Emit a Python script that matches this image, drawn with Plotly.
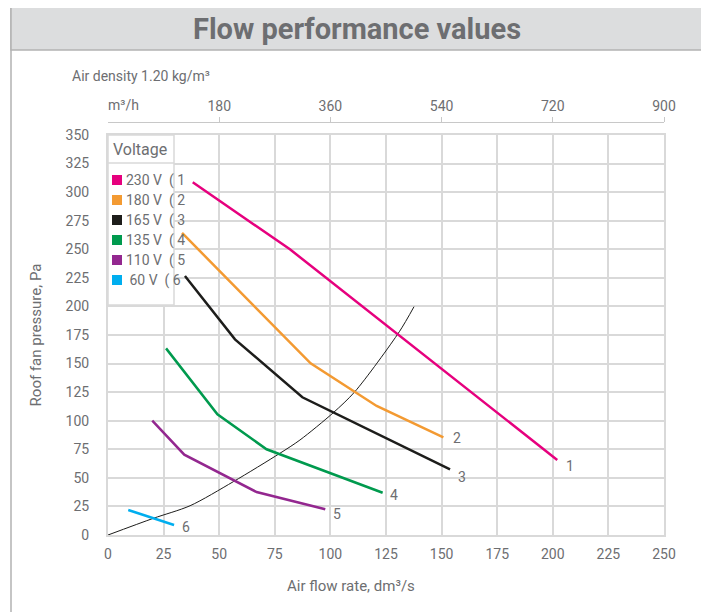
import plotly.graph_objects as go

# ---- data ----
voltages = ["230 V", "180 V", "165 V", "135 V", "110 V", " 60 V"]
curve_ids = ["1", "2", "3", "4", "5", "6"]
colors = ["#E6007E", "#F39A32", "#1D1D1B", "#009A4E", "#93278F", "#00AEEF"]

flow1 = [38.1, 81.8, 202.0]
pres1 = [308.6, 250.0, 65.6]
flow2 = [33.3, 91.1, 120.8, 150.8]
pres2 = [264.3, 150.2, 112.9, 85.5]
flow3 = [34.6, 57.1, 87.4, 153.8]
pres3 = [226.6, 171.2, 120.5, 57.5]
flow4 = [26.1, 49.2, 71.3, 123.5]
pres4 = [163.3, 105.6, 75.0, 37.0]
flow5 = [19.9, 34.3, 66.8, 97.7]
pres5 = [100.0, 70.3, 37.6, 22.5]
flow6 = [9.1, 29.7]
pres6 = [21.9, 8.75]

sys_flow = [0, 20.4, 36.9, 56.3, 77.3, 86.3, 101.3, 111.0, 131.0, 137.6]
sys_pres = [0, 14.6, 25.6, 46.6, 71.5, 83.1, 107.0, 125.4, 177.9, 199.8]

x_ticks = [0, 25, 50, 75, 100, 125, 150, 175, 200, 225, 250]
y_ticks = [0, 25, 50, 75, 100, 125, 150, 175, 200, 225, 250, 275, 300, 325, 350]
top_ticks = [180, 360, 540, 720, 900]

flows = [flow1, flow2, flow3, flow4, flow5, flow6]
press = [pres1, pres2, pres3, pres4, pres5, pres6]
label_shift = [(7, -6), (8, -1), (6, -8), (5, -2), (6, -5), (6, -2)]

FONT = "Roboto, Open Sans, sans-serif"
TXT = "#6d6e71"
GRID = "#d9d9d9"

OFF = 8  # page body margin
W, H = 709 - OFF, 612 - OFF
L, R_, T, B = 108, 664, 122, 535  # plot area in screen px (top incl. top axis)
pw, ph = R_ - L, B - T


def px(xp):
    return (xp - L) / pw


def py(yp):
    return (B - yp) / ph


fig = go.Figure()

# system curve
fig.add_trace(go.Scatter(x=sys_flow, y=sys_pres, mode="lines",
                         line=dict(color="#1D1D1B", width=1, shape="spline", smoothing=0.8),
                         showlegend=False, hoverinfo="skip"))

for f, p, c in zip(flows, press, colors):
    fig.add_trace(go.Scatter(x=f, y=p, mode="lines", line=dict(color=c, width=2.5),
                             showlegend=False))

# invisible trace for top axis
fig.add_trace(go.Scatter(x=[0, 900], y=[0, 0], xaxis="x2", mode="markers",
                         marker=dict(opacity=0), showlegend=False, hoverinfo="skip"))

ydom_top = (B - 135) / ph

fig.update_layout(
    width=W, height=H,
    margin=dict(l=L - OFF, r=709 - R_, t=T - OFF, b=612 - B, pad=0),
    paper_bgcolor="white", plot_bgcolor="white",
    font=dict(family=FONT, color=TXT, size=14),
    xaxis=dict(range=[0, 250], tickvals=x_ticks, showgrid=True, gridcolor=GRID, gridwidth=1.5,
               zeroline=False, showline=True, mirror=True, linecolor=GRID, linewidth=2,
               ticks="", ticklabelstandoff=5, tickfont=dict(size=14, color=TXT)),
    yaxis=dict(range=[0, 350], tickvals=y_ticks, domain=[0, ydom_top], showgrid=True,
               gridcolor=GRID, gridwidth=1.5, zeroline=False, showline=True, mirror=True,
               linecolor=GRID, linewidth=2, ticks="", ticklabelstandoff=14,
               tickfont=dict(size=14, color=TXT),
               title=dict(text="Roof fan pressure, Pa", font=dict(size=15, color=TXT), standoff=20)),
    xaxis2=dict(range=[0, 900], overlaying="x", side="top", anchor="free", position=1,
                tickvals=top_ticks, showgrid=False, zeroline=False, showline=True,
                linecolor="#c8c8c8", linewidth=1, ticks="outside", ticklen=5,
                tickcolor="#c8c8c8", tickfont=dict(size=14, color=TXT)),
)

shapes = []
# outer frame
shapes.append(dict(type="rect", xref="paper", yref="paper", x0=px(11), x1=px(702), y0=py(640), y1=py(7),
                   line=dict(color="#b3b3b3", width=1.5), fillcolor="rgba(0,0,0,0)", layer="below"))
# title band
shapes.append(dict(type="rect", xref="paper", yref="paper", x0=px(11), x1=px(702), y0=py(50), y1=py(7),
                   line=dict(color="#b3b3b3", width=1.5), fillcolor="#dcddde", layer="below"))
# legend box
lx0, lx1 = 0, (174 - L) / pw
shapes.append(dict(type="rect", xref="x domain", yref="y domain", x0=lx0, x1=lx1,
                   y0=(535 - 305) / 400, y1=1, fillcolor="white",
                   line=dict(color=GRID, width=1.5), layer="above"))
shapes.append(dict(type="line", xref="x domain", yref="y domain", x0=lx0, x1=lx1,
                   y0=(535 - 163) / 400, y1=(535 - 163) / 400, line=dict(color=GRID, width=1.5)))

annotations = []
annotations.append(dict(text="<b>Flow performance values</b>", xref="paper", yref="paper",
                        x=px(357), y=py(29), showarrow=False, font=dict(size=29, color=TXT, family=FONT),
                        xanchor="center", yanchor="middle"))
annotations.append(dict(text="Air density 1.20 kg/m³", xref="paper", yref="paper", x=px(70), y=py(76),
                        showarrow=False, xanchor="left", yanchor="middle", font=dict(size=14, color=TXT)))
annotations.append(dict(text="m³/h", xref="paper", yref="paper", x=px(123), y=py(105),
                        showarrow=False, xanchor="center", yanchor="middle", font=dict(size=14, color=TXT)))
annotations.append(dict(text="Air flow rate, dm³/s", xref="paper", yref="paper", x=px(351), y=py(586),
                        showarrow=False, xanchor="center", yanchor="middle", font=dict(size=15, color=TXT)))
annotations.append(dict(text="Voltage", xref="x domain", yref="y domain", x=(111 - L) / pw,
                        y=(535 - 149) / 400, showarrow=False, xanchor="left", yanchor="middle",
                        font=dict(size=16, color=TXT)))

for i, (v, cid, c) in enumerate(zip(voltages, curve_ids, colors)):
    yc = 180 + 20 * i
    shapes.append(dict(type="rect", xref="x domain", yref="y domain",
                       x0=(112 - L) / pw, x1=(122 - L) / pw,
                       y0=(535 - yc - 5) / 400, y1=(535 - yc + 5) / 400,
                       fillcolor=c, line=dict(width=0), layer="above"))
    annotations.append(dict(text=f"{v}  ( {cid}", xref="x domain", yref="y domain",
                            x=(124 - L) / pw, y=(535 - yc) / 400, showarrow=False,
                            xanchor="left", yanchor="middle", font=dict(size=14, color=TXT)))

for f, p, cid, (dx, dy) in zip(flows, press, curve_ids, label_shift):
    annotations.append(dict(text=cid, x=f[-1], y=p[-1], xref="x", yref="y", showarrow=False,
                            xanchor="left", yanchor="middle", xshift=dx, yshift=dy,
                            font=dict(size=14, color=TXT)))

fig.update_layout(shapes=shapes, annotations=annotations)
fig.write_html("out.html")
